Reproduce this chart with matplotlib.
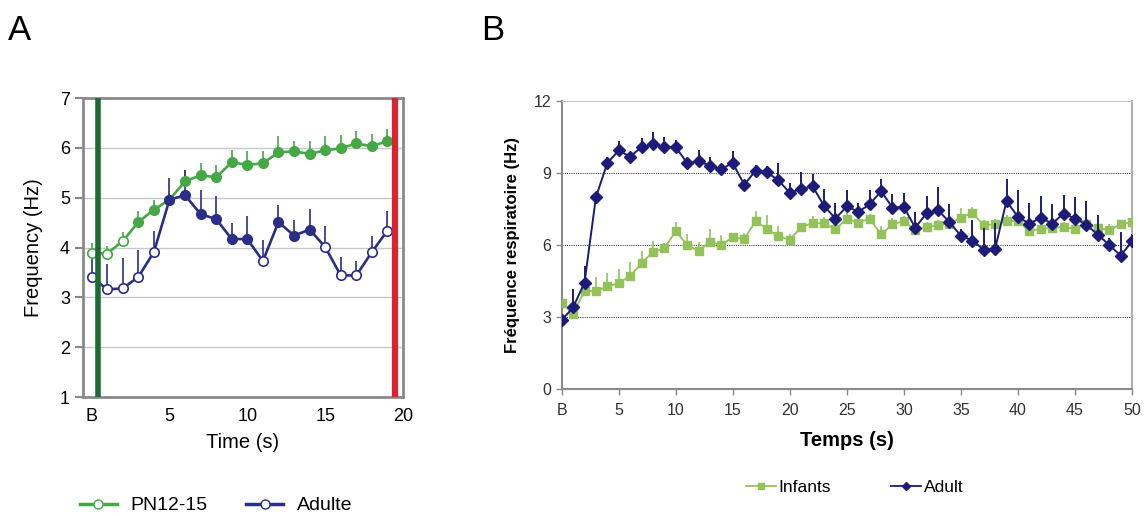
import numpy as np
import matplotlib
matplotlib.use("Agg")
import matplotlib.pyplot as plt
from matplotlib.lines import Line2D

plt.rcParams['font.family'] = ['Liberation Sans', 'DejaVu Sans']

# panel A data: B, 1..19 s
timeA = list(range(20))
pn_mean = [3.89, 3.88, 4.13, 4.51, 4.76, 4.96, 5.33, 5.45, 5.41, 5.71,
           5.66, 5.69, 5.91, 5.93, 5.88, 5.95, 5.99, 6.09, 6.03, 6.14]
pn_err = [0.20, 0.15, 0.18, 0.22, 0.20, 0.13, 0.23, 0.24, 0.25, 0.24,
          0.28, 0.24, 0.32, 0.21, 0.26, 0.28, 0.27, 0.25, 0.24, 0.23]
pn_filled = [False, False, False] + [True] * 17
ad_mean = [3.41, 3.16, 3.18, 3.41, 3.91, 4.96, 5.05, 4.67, 4.57, 4.17,
           4.17, 3.73, 4.51, 4.24, 4.36, 4.01, 3.44, 3.44, 3.91, 4.34]
ad_err = [0.35, 0.51, 0.60, 0.54, 0.42, 0.43, 0.51, 0.48, 0.46, 0.32,
          0.46, 0.43, 0.35, 0.32, 0.41, 0.42, 0.37, 0.29, 0.32, 0.40]
ad_filled = [False] * 5 + [True] * 6 + [False] + [True] * 3 + [False] * 5
xticksA = [0, 5, 10, 15, 20]
xlabelsA = ["B", "5", "10", "15", "20"]
stim_on = 0.42
stim_off = 19.46

# panel B data: B, 1..50 s
timeB = list(range(51))
inf_mean = [3.59, 3.13, 4.10, 4.08, 4.28, 4.41, 4.72, 5.24, 5.72, 5.86,
            6.58, 6.00, 5.75, 6.14, 6.00, 6.33, 6.25, 6.99, 6.68, 6.36,
            6.23, 6.74, 6.92, 6.90, 6.65, 7.10, 6.93, 7.10, 6.44, 6.86,
            7.00, 6.61, 6.75, 6.82, 6.89, 7.14, 7.33, 6.83, 6.86, 6.99,
            7.00, 6.58, 6.68, 6.71, 6.75, 6.68, 6.86, 6.72, 6.61, 6.86, 6.96]
inf_err = [0.35, 0.05, 0.10, 0.60, 0.58, 0.58, 0.58, 0.50, 0.44, 0.23,
           0.39, 0.44, 0.37, 0.51, 0.41, 0.11, 0.26, 0.41, 0.55, 0.43,
           0.25, 0.11, 0.28, 0.28, 0.20, 0.25, 0.30, 0.20, 0.37, 0.25,
           0.20, 0.25, 0.20, 0.22, 0.28, 0.38, 0.25, 0.20, 0.22, 0.25,
           0.20, 0.25, 0.20, 0.22, 0.20, 0.25, 0.20, 0.22, 0.25, 0.20, 0.22]
adu_mean = [2.88, 3.41, 4.44, 7.99, 9.41, 9.93, 9.68, 10.07, 10.19, 10.07,
            10.07, 9.41, 9.48, 9.30, 9.16, 9.41, 8.51, 9.09, 9.02, 8.69,
            8.17, 8.34, 8.44, 7.63, 7.10, 7.61, 7.38, 7.69, 8.24, 7.56,
            7.58, 6.72, 7.33, 7.44, 6.96, 6.38, 6.19, 5.81, 5.85, 7.83,
            7.17, 6.89, 7.14, 6.89, 7.31, 7.10, 6.85, 6.43, 6.01, 5.56, 6.15]
adu_err = [0.10, 0.76, 0.70, 0.10, 0.27, 0.41, 0.15, 0.37, 0.49, 0.44,
           0.30, 0.15, 0.45, 0.34, 0.15, 0.48, 0.15, 0.25, 0.25, 0.74,
           0.40, 0.68, 0.50, 0.72, 0.63, 0.67, 0.35, 0.61, 0.49, 0.58,
           0.58, 0.65, 0.69, 0.97, 0.76, 0.30, 0.86, 0.88, 1.07, 0.93,
           1.11, 0.86, 0.89, 0.83, 0.76, 0.90, 0.97, 0.80, 0.30, 0.99, 0.30]
xticksB = [0, 5, 10, 15, 20, 25, 30, 35, 40, 45, 50]
xlabelsB = ["B"] + [str(v) for v in xticksB[1:]]

greenA = "#45a845"
blueA = "#2b2e87"
greenB = "#93c25a"
blueB = "#1c1c78"

fig = plt.figure(figsize=(11.44, 5.16), dpi=100)

# ---------- panel A ----------
axA = fig.add_axes([0.0726, 0.2306, 0.2797, 0.5794])
for v in [2, 3, 4, 5, 6]:
    axA.axhline(v, color="#c8c8c8", lw=1, zorder=0)

for mean, err, filled, col in [(pn_mean, pn_err, pn_filled, greenA),
                                (ad_mean, ad_err, ad_filled, blueA)]:
    axA.errorbar(timeA, mean, yerr=[np.zeros(len(err)), err], fmt="none",
                 ecolor=col, elinewidth=1.2, capsize=0, zorder=2)
    axA.plot(timeA, mean, color=col, lw=1.9, zorder=3)
    xs = np.array(timeA)
    ys = np.array(mean)
    f = np.array(filled)
    axA.plot(xs[f], ys[f], "o", ms=6.8, mfc=col, mec=col, mew=1.2, zorder=4)
    axA.plot(xs[~f], ys[~f], "o", ms=6.8, mfc="white", mec=col, mew=1.2, zorder=4)

axA.axvline(stim_on, color="#1b6b33", lw=4, zorder=5)
axA.axvline(stim_off, color="#d9262e", lw=4.5, zorder=5)

axA.set_xlim(-0.55, 19.9)
axA.set_ylim(1, 7)
axA.set_xticks(xticksA)
axA.set_xticklabels(xlabelsA)
axA.set_yticks(range(1, 8))
axA.tick_params(axis="x", length=0, labelsize=13, pad=8)
axA.tick_params(axis="y", length=6, width=1.5, color="#888888", labelsize=13, direction="out")
for s in axA.spines.values():
    s.set_color("#8a8a8a")
    s.set_linewidth(2)
axA.set_xlabel("Time (s)", fontsize=14.5, labelpad=6)
axA.set_ylabel("Frequency (Hz)", fontsize=14.5, labelpad=12)

handlesA = [Line2D([], [], color=greenA, lw=2.5, marker="o", ms=6.5, mfc="white", mec=greenA),
            Line2D([], [], color=blueA, lw=2.5, marker="o", ms=6.5, mfc="white", mec=blueA)]
fig.legend(handlesA, ["PN12-15", "Adulte"], loc="center", bbox_to_anchor=(0.189, 0.02),
           ncol=2, frameon=False, fontsize=14, handlelength=1.9, handletextpad=0.7,
           columnspacing=2.0)

fig.text(0.007, 0.94, "A", fontsize=25, va="center")

# ---------- panel B ----------
axB = fig.add_axes([0.491, 0.2452, 0.4985, 0.5597])
for v in [3, 6, 9]:
    axB.axhline(v, color="#444444", lw=0.8, ls=(0, (1, 1)), zorder=0)

axB.errorbar(timeB, inf_mean, yerr=[np.zeros(len(inf_err)), inf_err], fmt="none",
             ecolor=greenB, elinewidth=1.2, capsize=0, zorder=2)
axB.plot(timeB, inf_mean, color=greenB, lw=1.3, marker="s", ms=6, mfc=greenB,
         mec=greenB, zorder=3, label="Infants")
axB.errorbar(timeB, adu_mean, yerr=[np.zeros(len(adu_err)), adu_err], fmt="none",
             ecolor=blueB, elinewidth=1.4, capsize=0, zorder=4)
axB.plot(timeB, adu_mean, color=blueB, lw=1.4, marker="D", ms=6, mfc=blueB,
         mec=blueB, zorder=5, label="Adult")

axB.set_xlim(0, 50)
axB.set_ylim(0, 12)
axB.set_xticks(xticksB)
axB.set_xticklabels(xlabelsB)
axB.set_yticks([0, 3, 6, 9, 12])
axB.tick_params(axis="both", length=4, width=1, color="#888888", labelsize=11.5,
                direction="out", labelcolor="#333333")
axB.tick_params(axis="x", pad=6)
axB.spines["left"].set_color("#8a8a8a")
axB.spines["bottom"].set_color("#8a8a8a")
axB.spines["left"].set_linewidth(1.5)
axB.spines["bottom"].set_linewidth(1.5)
axB.spines["top"].set_color("#c8c8c8")
axB.spines["right"].set_color("#b0b0b0")
axB.spines["right"].set_linewidth(1.5)
axB.set_xlabel("Temps (s)", fontsize=14.5, fontweight="bold", labelpad=9)
axB.set_ylabel("Fréquence respiratoire (Hz)", fontsize=12, fontweight="bold", labelpad=10)

handlesB = [Line2D([], [], color=greenB, lw=1.3, marker="s", ms=5, mfc=greenB, mec=greenB),
            Line2D([], [], color=blueB, lw=1.3, marker="D", ms=4.5, mfc=blueB, mec=blueB)]
fig.legend(handlesB, ["Infants", "Adult"], loc="center", bbox_to_anchor=(0.747, 0.056),
           ncol=2, frameon=False, fontsize=12.5, handlelength=1.7, handletextpad=0.15,
           columnspacing=3.5)

fig.text(0.421, 0.94, "B", fontsize=25, va="center")

plt.savefig("out.png", dpi=100)
